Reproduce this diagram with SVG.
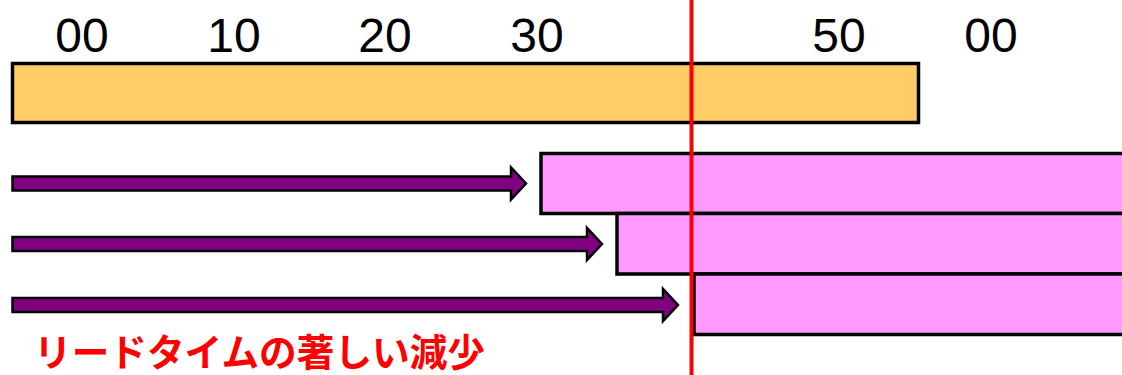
<svg xmlns="http://www.w3.org/2000/svg" width="1122" height="375" viewBox="0 0 1122 375">
<style>
.tick{font-family:"Liberation Sans",Arial,sans-serif;font-size:48px;fill:#000;text-anchor:middle}
.bar{fill:#FFCC66;stroke:#000;stroke-width:3.5}
.task{fill:#FF99FF;stroke:#000;stroke-width:3.5}
.arrow{fill:#800080;stroke:#000;stroke-width:2.5;stroke-linejoin:miter}
.title{font-family:"Noto Sans CJK JP","Noto Sans",sans-serif;font-weight:bold;font-size:38px;fill:#FF0000}
</style>
<rect width="1122" height="375" fill="#fff"/>
<g id="ticks">
<text class="tick" x="82" y="52">00</text>
<text class="tick" x="234" y="52">10</text>
<text class="tick" x="385" y="52">20</text>
<text class="tick" x="537" y="52">30</text>
<text class="tick" x="839" y="52">50</text>
<text class="tick" x="991" y="52">00</text>
</g>
<g id="timeline"><rect class="bar" x="12.5" y="63.5" width="906" height="59"/></g>
<g id="task1"><rect class="task" x="541" y="153.5" width="600" height="60"/></g>
<g id="task2"><rect class="task" x="617" y="213.5" width="530" height="60.5"/></g>
<g id="task3"><rect class="task" x="694" y="274" width="450" height="60.5"/></g>
<g id="connectors">
<polygon class="arrow" points="12.5,176.5 511,176.5 511,167.5 526,183.5 511,199.5 511,190.5 12.5,190.5"/>
<polygon class="arrow" points="12.5,237 587,237 587,228 602,244 587,260 587,251 12.5,251"/>
<polygon class="arrow" points="12.5,298 663,298 663,289 678,305 663,321 663,312 12.5,312"/>
</g>
<g id="now-line"><line x1="691.5" y1="0" x2="691.5" y2="375" stroke="#FF0000" stroke-width="4"/></g>
<g id="caption"><text class="title" x="34" y="366" textLength="451" lengthAdjust="spacingAndGlyphs">リードタイムの著しい減少</text></g>
</svg>
